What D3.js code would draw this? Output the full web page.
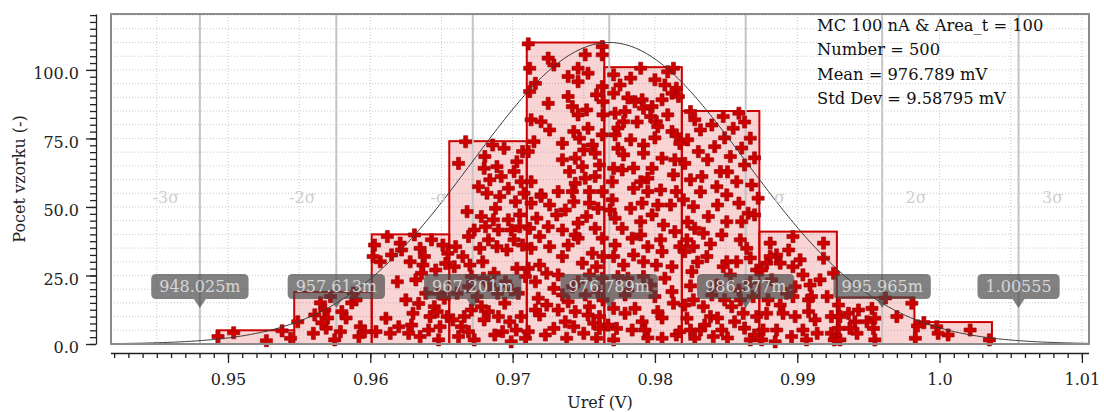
<!DOCTYPE html>
<html><head><meta charset="utf-8">
<script src="https://cdn.jsdelivr.net/npm/d3@7"></script>
<style>
body{margin:0;background:#fff}
svg{display:block}
text{font-family:"DejaVu Serif",serif}
</style>
</head><body>
<svg id="chart" width="1104" height="412"></svg>
<script>
// ---------------- data ----------------
const binCounts = [5,19,40,74,110,101,85,41,17,8];
const binStartV = 0.949206;
const binWidthV = 0.0054474;
const meanV = 0.976789;
const stdV = 0.00958795;
const sigmaValues = [0.948025,0.957613,0.967201,0.976789,0.986377,0.995965,1.00555];
const sigmaCallouts = ["948.025m","957.613m","967.201m","976.789m","986.377m","995.965m","1.00555"];
const sigmaNames = ["-3σ","-2σ","-σ","","σ","2σ","3σ"];
const infoLines = ["MC 100 nA & Area_t = 100","Number = 500","Mean = 976.789 mV","Std Dev = 9.58795 mV"];
const xMajorTicks = [0.95,0.96,0.97,0.98,0.99,1.0,1.01];
const xMajorLabels = ["0.95","0.96","0.97","0.98","0.99","1.0","1.01"];
const yMajorTicks = [0,25,50,75,100];
const yMajorLabels = ["0.0","25.0","50.0","75.0","100.0"];
// samples: [value in mV, vertical placement in counts]
const samplesBin1 = [[949.3,2.7],[950.4,4.1],[952.7,1.2],[953.8,4.8],[954.4,2.1]];
const samplesBin2 = [[954.9,8.1],[956.1,10.6],[956.5,15.0],[956.8,12.4],[957.0,9.5],[957.2,17.3],[956.9,5.8],[957.9,4.5],[957.5,1.5],[958.3,9.5],[958.7,15.0],[959.0,16.1],[959.3,6.3],[959.2,2.7],[959.6,4.5],[956.0,3.9],[956.6,7.7],[958.0,11.8],[958.8,18.6]];
const samplesBin3 = [[961.2,39.2],[962.1,36.8],[963.1,39.8],[964.3,38.0],[960.3,36.1],[960.7,30.0],[961.5,32.5],[962.2,34.3],[963.5,34.9],[962.8,30.0],[963.7,28.8],[963.6,25.8],[965.1,36.1],[961.9,22.7],[963.2,23.4],[963.9,18.5],[964.8,18.5],[962.5,16.1],[963.4,14.8],[964.5,13.6],[965.2,16.7],[961.1,9.4],[962.0,6.3],[962.7,3.9],[960.4,4.5],[963.0,11.2],[964.2,10.0],[964.7,11.8],[964.9,6.3],[964.1,5.1],[964.8,1.5],[963.5,2.7],[961.4,3.9],[962.9,6.9],[965.3,29.4],[964.6,27.0],[963.8,31.9],[965.45,33.1],[960.2,31.9],[965.4,10.0]];
const samplesBin4 = [[966.7,73.8],[966.2,65.9],[968.6,72.6],[969.4,71.4],[970.7,70.2],[968.0,64.1],[968.9,64.7],[970.1,62.9],[968.4,59.9],[969.2,61.1],[970.6,59.2],[968.2,55.0],[969.1,53.8],[970.2,51.9],[970.8,55.0],[966.8,48.3],[967.8,46.5],[968.8,49.5],[969.7,45.3],[970.5,47.1],[966.0,35.5],[966.9,39.2],[968.1,42.8],[969.0,41.6],[969.9,41.6],[968.3,38.0],[966.5,31.9],[967.7,34.9],[968.9,35.5],[969.6,34.3],[970.7,36.1],[965.9,28.2],[967.0,28.8],[967.9,30.0],[968.7,25.8],[970.3,27.6],[970.9,24.6],[966.9,20.9],[967.95,24.0],[969.5,22.7],[966.1,18.5],[967.5,17.3],[968.95,18.5],[970.4,18.5],[967.8,13.6],[968.3,11.8],[969.45,14.9],[965.8,8.8],[966.6,10.0],[968.0,8.8],[969.8,8.1],[970.6,10.0],[966.2,2.7],[966.9,4.5],[969.3,4.5],[970.25,5.1],[967.3,1.5],[968.75,3.3],[970.9,2.1],[968.05,68.4],[970.3,66.5],[967.6,57.4],[969.7,56.8],[968.65,45.3],[970.5,42.8],[967.3,41.6],[970.1,38.0],[967.1,24.6],[968.4,21.5],[969.9,19.7],[967.1,12.4],[969.0,10.0],[966.4,6.3],[969.9,0.8]];
const samplesBin5 = [[971.1,109.5],[972.5,104.3],[972.9,101.8],[971.2,100.6],[975.1,105.5],[976.3,108.5],[976.3,105.5],[974.6,100.6],[973.9,97.6],[975.3,98.8],[971.6,95.1],[971.2,92.1],[974.6,95.7],[976.3,93.9],[973.9,90.3],[975.9,90.9],[972.5,87.8],[974.2,86.6],[975.2,85.4],[976.35,88.4],[971.3,81.8],[972.0,81.1],[972.6,78.1],[974.6,83.6],[975.3,78.7],[974.3,77.5],[976.35,83.6],[971.5,73.8],[973.5,73.2],[974.7,75.1],[975.6,72.6],[976.3,76.3],[975.0,70.8],[975.8,69.6],[973.5,67.2],[971.1,70.2],[974.4,67.8],[974.9,64.7],[976.1,65.3],[974.0,62.9],[975.1,60.5],[975.8,61.1],[974.4,58.6],[971.3,59.2],[972.0,54.4],[973.2,55.6],[974.2,55.6],[975.4,55.6],[976.3,55.6],
  [972.0,53.8],[974.3,51.9],[975.4,51.4],[973.7,48.9],[971.7,45.9],[972.5,42.8],[973.5,41.6],[974.4,39.8],[971.9,39.2],[975.2,46.5],[976.0,49.5],[971.3,34.9],[972.6,35.5],[973.5,31.9],[974.6,38.6],[975.6,33.1],[974.9,29.5],[971.9,28.8],[972.4,25.8],[973.2,25.2],[975.9,28.2],[971.1,27.6],[974.2,20.9],[971.8,16.7],[972.4,14.2],[973.9,15.4],[975.1,17.9],[976.0,19.1],[971.6,12.4],[974.4,11.8],[975.3,10.6],[971.9,10.6],[973.7,8.1],[975.7,7.6],[976.1,5.7],[972.3,3.3],[973.8,2.1],[975.0,3.9],[975.9,2.1],[971.1,4.5],[973.2,12.4],[974.6,22.7],[972.9,20.3],[976.3,24.0],[975.4,25.2],[976.3,38.6],[971.2,42.2],[973.9,36.1],[973.1,47.1],[974.6,44.1],[975.8,42.2],[975.4,13.6],[976.1,10.0],[972.9,5.7],[974.3,6.3],[976.35,16.1],[971.6,22.7],[973.5,17.9],[971.3,51.4],[972.6,50.7],[976.35,31.9]];
const samplesBin6 = [[977.1,98.2],[978.3,97.0],[979.0,100.6],[981.3,100.6],[980.7,94.5],[981.5,93.3],[981.2,91.5],[981.65,90.3],[977.1,91.5],[977.2,84.2],[977.9,84.8],[977.8,81.1],[978.6,88.4],[979.1,89.1],[979.2,86.0],[979.8,86.6],[979.7,83.0],[980.1,81.1],[980.2,79.3],[981.2,77.5],[981.5,76.3],[981.75,73.2],[977.2,76.3],[977.4,71.4],[977.8,69.0],[979.2,72.6],[979.2,69.6],[980.5,67.8],[979.8,64.1],[977.1,64.1],[979.0,59.2],[979.5,60.5],[978.5,56.8],[979.5,55.6],[981.3,61.7],[981.5,55.6],[977.0,59.2],
  [976.85,48.9],[977.2,45.9],[978.3,49.5],[979.1,51.4],[980.2,50.7],[977.7,42.2],[978.4,38.6],[977.2,36.1],[979.0,44.6],[979.8,47.1],[980.6,43.4],[981.4,41.0],[979.5,35.5],[977.1,31.9],[977.8,28.8],[978.5,32.5],[979.2,30.0],[980.1,28.8],[981.75,35.5],[981.2,28.2],[977.4,24.6],[978.1,24.0],[979.2,24.6],[979.7,21.5],[980.0,17.3],[981.2,19.1],[977.1,13.0],[977.9,11.2],[978.6,13.0],[979.1,8.1],[980.2,11.8],[981.3,14.9],[977.3,5.7],[978.4,5.1],[979.3,5.1],[980.5,2.1],[981.5,3.3],[977.1,1.5],[976.7,6.9],[981.75,4.5],[977.9,17.9],[980.7,24.0],[980.5,33.7],
  [977.55,94.5],[980.0,96.4],[980.9,99.3],[978.1,89.8],[980.5,89.1],[977.4,78.8],[978.75,81.0],[980.9,83.6],[978.3,74.5],[980.0,75.2],[981.4,67.2],[977.7,63.5],[980.4,56.2],[978.5,64.2],[977.0,52.6],[981.1,50.7],[979.0,39.8],[980.4,38.0],[978.1,19.7],[980.5,9.5],[979.5,2.2]];
const samplesBin7 = [[982.5,84.8],[983.2,78.1],[984.8,83.0],[985.9,84.2],[985.5,78.7],[986.7,75.1],[983.05,70.2],[984.2,72.0],[985.3,68.4],[982.1,65.9],[986.3,65.3],[984.6,62.9],[983.3,61.1],[985.75,59.2],[984.35,57.4],[985.05,54.4],[987.25,53.2],[982.0,52.6],[982.7,50.1],[985.9,51.4],[986.55,47.7],[983.75,46.5],[985.05,44.6],[986.1,44.6],[982.8,42.2],[982.25,38.0],[983.4,40.4],[982.7,35.5],[983.65,31.9],[985.05,30.0],[985.75,30.0],[987.15,27.0],[982.6,26.4],[982.1,33.7],[986.45,34.9],[984.8,28.2],[984.35,21.5],[985.9,19.7],[982.7,16.1],[983.4,13.6],[985.4,13.6],[986.2,11.2],[986.9,17.3],[982.25,9.4],[983.9,10.0],[984.7,5.1],[983.2,5.1],[982.8,2.1],[984.1,2.7],[986.7,1.5],[985.6,8.1],[987.15,10.0],
  [982.8,81.8],[984.0,79.9],[986.3,81.0],[982.3,74.5],[984.9,75.2],[986.1,71.5],[983.7,67.2],[987.0,67.9],[982.5,59.9],[985.1,62.8],[986.8,58.0],[983.2,55.5],[984.4,50.7],[987.0,47.1],[982.3,44.5],[984.7,39.8],[986.0,38.0],[983.9,36.5],[986.7,31.4],[983.0,29.9],[985.3,25.2],[982.5,21.2],[986.7,22.6],[984.0,17.9],[984.9,16.1],[982.1,14.2],[986.3,5.8],[985.1,2.2],[983.5,6.9],[982.5,5.1],[987.0,3.3],[984.4,9.5],[986.0,16.1]];
const samplesBin8 = [[988.1,36.8],[988.55,32.5],[989.7,39.2],[989.4,34.3],[991.85,36.8],[991.85,31.3],[987.85,29.5],[988.8,29.5],[989.7,28.2],[990.4,25.2],[992.55,25.8],[987.5,27.0],[988.2,23.4],[989.85,20.9],[990.9,21.5],[989.7,17.3],[990.8,16.1],[988.8,14.2],[987.95,16.1],[987.85,11.2],[989.0,11.2],[989.85,10.0],[990.8,11.8],[991.25,8.8],[992.4,10.0],[987.6,5.1],[988.55,5.1],[989.6,2.7],[990.4,5.1],[990.65,1.5],[987.5,1.5],[988.45,0.8],[992.4,3.9],[992.6,1.5],[988.1,31.9],[990.2,30.7],[991.6,23.4],[991.0,17.3],[992.1,17.3],[991.4,3.9],[989.25,18.5]];
const samplesBin9 = [[992.9,14.2],[993.0,10.0],[992.9,5.7],[993.6,11.2],[994.3,12.4],[994.05,8.1],[994.2,3.9],[995.25,13.0],[995.45,9.4],[995.35,5.7],[995.45,1.5],[996.2,16.8],[997.0,10.0],[998.05,14.9],[993.0,1.5],[993.7,5.7],[994.9,8.1]];
const samplesBin10 = [[998.3,2.1],[998.9,7.8],[998.45,6.6],[999.8,6.3],[1000.6,3.3],[999.9,3.9],[1002.15,5.1],[1003.5,1.5]];

// ---------------- chart ----------------
const svg = d3.select("#chart");
const L = 111, R = 1089, T = 14, B = 344;
const x = d3.scaleLinear().domain([0.94178, 1.0105]).range([L, R]);
const y = d3.scaleLinear().domain([0, 120.4]).range([B, T]);

// grid
const grid = svg.append("g");
grid.selectAll("line.hg").data(d3.range(5, 120.1, 5)).join("line")
  .attr("x1", L).attr("x2", R).attr("y1", d => y(d)).attr("y2", d => y(d))
  .attr("stroke", "#c8c8c8").attr("stroke-width", 1).attr("stroke-dasharray", "1,2");
grid.selectAll("line.vg").data(d3.range(0.945, 1.0101, 0.005)).join("line")
  .attr("x1", d => x(d)).attr("x2", d => x(d)).attr("y1", T).attr("y2", B)
  .attr("stroke", "#c8c8c8").attr("stroke-width", 1).attr("stroke-dasharray", "1,2");

// bars
const bins = binCounts.map((c, i) => ({x0: binStartV + i * binWidthV, x1: binStartV + (i + 1) * binWidthV, c}));
svg.append("g").selectAll("rect").data(bins).join("rect")
  .attr("x", d => x(d.x0)).attr("width", d => x(d.x1) - x(d.x0))
  .attr("y", d => y(d.c)).attr("height", d => y(0) - y(d.c))
  .attr("fill", "rgba(225,40,40,0.2)").attr("stroke", "#cc0000").attr("stroke-width", 2);

// sigma lines
svg.append("g").selectAll("line").data(sigmaValues).join("line")
  .attr("x1", d => x(d)).attr("x2", d => x(d)).attr("y1", T).attr("y2", B)
  .attr("stroke", "#c4c4c4").attr("stroke-width", 2);

// samples
const samples = [].concat(samplesBin1, samplesBin2, samplesBin3, samplesBin4, samplesBin5,
  samplesBin6, samplesBin7, samplesBin8, samplesBin9, samplesBin10);
const cross = d3.symbol().type(d3.symbolCross).size(82);
svg.append("g").selectAll("path").data(samples).join("path")
  .attr("transform", d => `translate(${x(d[0] / 1000)},${y(d[1])})`)
  .attr("d", cross)
  .attr("fill", "#cc0000").attr("stroke", "#9a0000").attr("stroke-width", 0.6);

// normal curve scaled to the tallest bin
const peak = d3.max(binCounts);
const curveXs = d3.range(0, 401).map(i => x.domain()[0] + (x.domain()[1] - x.domain()[0]) * i / 400);
const line = d3.line().x(v => x(v)).y(v => y(peak * Math.exp(-0.5 * ((v - meanV) / stdV) ** 2)));
svg.append("path").datum(curveXs).attr("d", line)
  .attr("fill", "none").attr("stroke", "#3a3a3a").attr("stroke-width", 1);

// frame
svg.append("rect").attr("x", L).attr("y", T).attr("width", R - L).attr("height", B - T)
  .attr("fill", "none").attr("stroke", "#8c8c8c").attr("stroke-width", 2);

// sigma names
svg.append("g").selectAll("text").data(sigmaValues).join("text")
  .attr("x", (d, i) => x(d) + (i < 3 ? -34 : 34)).attr("y", 203)
  .attr("text-anchor", "middle").attr("font-size", 16).attr("fill", "#cfcfcf")
  .text((d, i) => sigmaNames[i]);

// callouts
const co = svg.append("g");
sigmaValues.forEach((v, i) => {
  const g = co.append("g").attr("transform", `translate(${x(v)},0)`);
  const t = g.append("text").attr("x", 0).attr("y", 292).attr("text-anchor", "middle")
    .attr("font-size", 16).attr("fill", "#d6d6d6").text(sigmaCallouts[i]);
  const w = t.node().getComputedTextLength() + 16;
  g.insert("path", "text")
    .attr("d", `M${-w/2+5},274 H${w/2-5} Q${w/2},274 ${w/2},279 V294 Q${w/2},299 ${w/2-5},299 H6 L0,308 L-6,299 H${-w/2+5} Q${-w/2},299 ${-w/2},294 V279 Q${-w/2},274 ${-w/2+5},274 Z`)
    .attr("fill", "rgba(70,70,70,0.68)");
});

// info text
svg.append("g").selectAll("text").data(infoLines).join("text")
  .attr("x", 817).attr("y", (d, i) => 30.7 + i * 24.4)
  .attr("font-size", 16.3).attr("fill", "#111").text(d => d);

// y axis
const yAxisG = svg.append("g").attr("transform", "translate(96,0)");
yAxisG.call(d3.axisLeft(y).tickValues(d3.range(0, 120.1, 2.5)).tickSize(6).tickSizeOuter(0).tickFormat(""));
const yMaj = svg.append("g").attr("transform", "translate(96,0)");
yMaj.call(d3.axisLeft(y).tickValues(yMajorTicks).tickSize(10).tickSizeOuter(0)
  .tickFormat((d, i) => yMajorLabels[i]));
yMaj.select(".domain").remove();
[yAxisG, yMaj].forEach(g => { g.selectAll("line,path").attr("stroke", "#222").attr("stroke-width", 1.3); });
yMaj.selectAll("text").attr("x", -17).attr("dy", "0.55em").attr("font-size", 16)
  .attr("font-family", "DejaVu Serif").attr("fill", "#222");

// x axis
const xAxisG = svg.append("g").attr("transform", "translate(0,353)");
xAxisG.call(d3.axisBottom(x).tickValues(d3.range(0, 69).map(i => 0.942 + i * 0.001)).tickSize(5).tickSizeOuter(0).tickFormat(""));
xAxisG.select(".domain").attr("d", `M${L},0.5H${R}`);
const xMaj = svg.append("g").attr("transform", "translate(0,353)");
xMaj.call(d3.axisBottom(x).tickValues(xMajorTicks).tickSize(10).tickSizeOuter(0)
  .tickFormat((d, i) => xMajorLabels[i]));
xMaj.select(".domain").remove();
[xAxisG, xMaj].forEach(g => { g.selectAll("line,path").attr("stroke", "#222").attr("stroke-width", 1.3); });
xMaj.selectAll("text").attr("y", 32).attr("dy", 0).attr("font-size", 16)
  .attr("font-family", "DejaVu Serif").attr("fill", "#222");

// axis titles
svg.append("text").attr("transform", `translate(25,${(T + B) / 2}) rotate(-90)`)
  .attr("text-anchor", "middle").attr("font-size", 16).attr("fill", "#222").text("Pocet vzorku (-)");
svg.append("text").attr("x", (L + R) / 2).attr("y", 408)
  .attr("text-anchor", "middle").attr("font-size", 16).attr("fill", "#222").text("Uref (V)");
</script>
</body></html>
